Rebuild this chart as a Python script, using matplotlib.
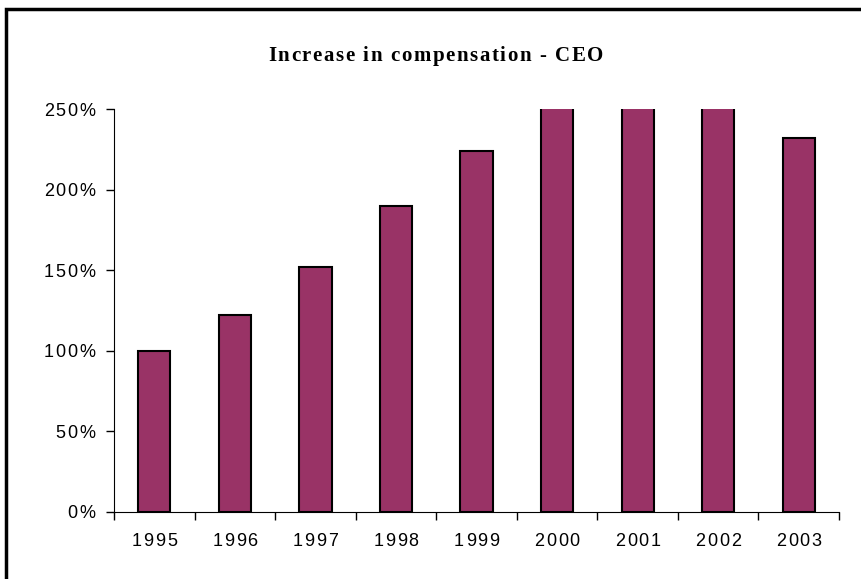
import matplotlib
matplotlib.use("Agg")
import matplotlib.pyplot as plt
import numpy as np
from matplotlib.patches import Rectangle
from matplotlib.transforms import IdentityTransform
from matplotlib.font_manager import FontProperties, findfont, get_font
from matplotlib.ticker import FixedLocator, NullFormatter

# ---- Data ----
years = ["1995", "1996", "1997", "1998", "1999", "2000", "2001", "2002", "2003"]
increase_pct = [100, 122, 152, 190, 224, 280, 300, 270, 232]  # 2000-2002 run off the top
y_ticks = [0, 50, 100, 150, 200, 250]
title = "Increase in compensation - CEO"

BAR_COLOR = "#993366"
DPI = 100


def char_advances(s, fp):
    """Advance width (pixels) of each character in s."""
    font = get_font(findfont(fp))
    font.set_size(fp.get_size_in_points(), DPI)
    return [font.load_char(ord(c)).linearHoriAdvance / 65536 for c in s]


def spaced_text(fig, x, y, s, fp, spacing, ha="center"):
    """Draw s at pixel position (x, y baseline) with extra letter spacing."""
    adv = char_advances(s, fp)
    total = sum(adv) + spacing * (len(s) - 1)
    if ha == "center":
        x0 = x - total / 2
    elif ha == "right":
        x0 = x - total
    else:
        x0 = x
    for c, a in zip(s, adv):
        if c != " ":
            fig.text(x0, y, c, fontproperties=fp, ha="left", va="baseline",
                     transform=IdentityTransform())
        x0 += a + spacing
    return total


fig = plt.figure(figsize=(8.61, 5.79), dpi=DPI)
H = 579
ax = fig.add_axes([114 / 861, 1 - 512 / H, (839 - 114) / 861, (512 - 109) / H])

x = np.arange(len(years))
ax.bar(x, increase_pct, width=0.4, color=BAR_COLOR, edgecolor="black", linewidth=1.5, zorder=2)

ax.set_xlim(-0.5, len(years) - 0.5)
ax.set_ylim(0, 250)

ax.set_yticks(y_ticks)
ax.yaxis.set_major_formatter(NullFormatter())
ax.tick_params(axis="y", direction="out", length=6, width=1)

# tick marks between categories
ax.xaxis.set_major_locator(FixedLocator(np.arange(len(years) + 1) - 0.5))
ax.xaxis.set_major_formatter(NullFormatter())
ax.tick_params(axis="x", which="major", direction="out", length=6, width=1)

ax.spines["top"].set_visible(False)
ax.spines["right"].set_visible(False)

# ---- letter-spaced labels, Excel style ----
tick_fp = FontProperties(family="Liberation Sans", size=13)
for xi, yr in zip(x, years):
    px, py = ax.transData.transform((xi, 0))
    spaced_text(fig, px, py - 34, yr, tick_fp, 1.7, ha="center")
for v in y_ticks:
    px, py = ax.transData.transform((-0.5, v))
    spaced_text(fig, px - 19, py - 6.5, f"{v}%", tick_fp, 1.7, ha="right")

title_fp = FontProperties(family="Liberation Serif", weight="bold", size=15)
natural = sum(char_advances(title, title_fp))
title_spacing = (335 - natural) / (len(title) - 1)
spaced_text(fig, 435.5, H - 61, title, title_fp, title_spacing, ha="center")

# outer chart border (runs past right and bottom edges of the image)
fig.patches.append(Rectangle((6 / 861, -0.2), 1.2, 1 - 9 / H + 0.2, transform=fig.transFigure,
                             fill=False, edgecolor="black", linewidth=2.5, clip_on=False))

fig.savefig("out.png", dpi=DPI)
